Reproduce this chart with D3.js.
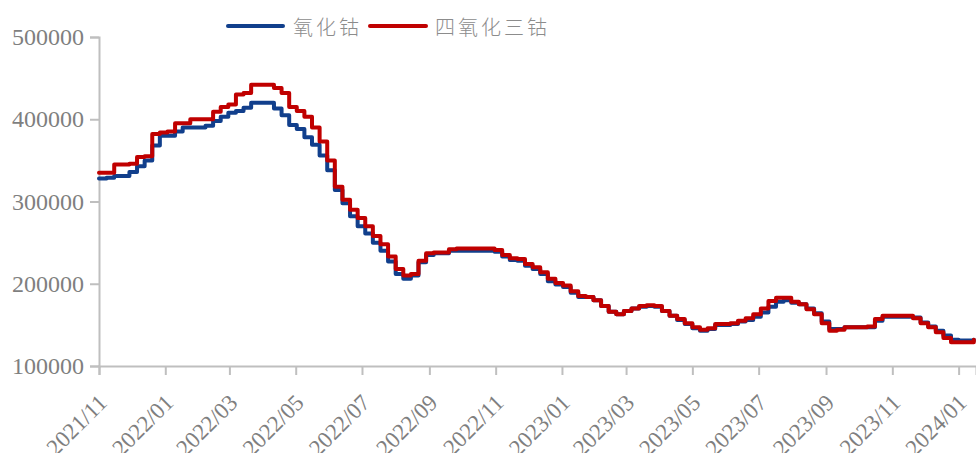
<!DOCTYPE html>
<html>
<head>
<meta charset="utf-8">
<script src="https://cdn.jsdelivr.net/npm/d3@7"></script>
<style>
  html, body { margin: 0; padding: 0; background: #ffffff; }
  svg { display: block; }
</style>
</head>
<body>
<div id="chart"></div>
<script>
// Weekly cobalt oxide prices (yuan/ton), one value per Monday from 2021-11-01
const seriesNames = ["氧化钴", "四氧化三钴"];
const seriesColors = ["#113f8c", "#c00000"];

const cobaltOxide = [
  328000, 329000, 331000, 331000, 336000, 343000, 350000, 368000, 380000, 380000,
  385000, 390000, 390000, 390000, 392000, 398000, 403000, 408000, 410000, 414000,
  420000, 420000, 420000, 413000, 405000, 393000, 388000, 378000, 369000, 356000,
  338000, 314000, 298000, 282000, 270000, 261000, 250000, 240000, 227000, 212000,
  206000, 210000, 226000, 235000, 237000, 237000, 240000, 240000, 240000, 240000,
  240000, 240000, 239000, 233000, 229000, 228000, 222000, 218000, 212000, 203000,
  199000, 196000, 189000, 184000, 184000, 180000, 173000, 166000, 163000, 167000,
  170000, 172000, 173000, 172000, 167000, 161000, 156000, 151000, 146000, 143000,
  145000, 150000, 150000, 151000, 154000, 156000, 160000, 165000, 172000, 178000,
  180000, 177000, 175000, 170000, 164000, 154000, 145000, 145000, 147000, 147000,
  147000, 147000, 155000, 160000, 160000, 160000, 160000, 159000, 153000, 148000,
  143000, 137000, 132000, 131000, 131000, 132000
];

const tricobaltTetroxide = [
  335000, 335000, 345000, 345000, 346000, 354000, 355000, 382000, 384000, 385000,
  395000, 395000, 400000, 400000, 400000, 409000, 415000, 418000, 430000, 432000,
  442000, 442000, 442000, 438000, 432000, 415000, 410000, 403000, 390000, 373000,
  350000, 318000, 302000, 290000, 280000, 270000, 258000, 248000, 233000, 218000,
  210000, 212000, 228000, 237000, 238000, 238000, 242000, 243000, 243000, 243000,
  243000, 243000, 241000, 235000, 231000, 230000, 224000, 220000, 214000, 206000,
  201000, 198000, 191000, 185000, 184000, 180000, 173000, 166000, 163000, 167000,
  170000, 173000, 174000, 173000, 167000, 161000, 157000, 152000, 147000, 144000,
  146000, 151000, 151000, 152000, 155000, 158000, 163000, 170000, 179000, 183000,
  183000, 178000, 175000, 169000, 163000, 152000, 143000, 144000, 147000, 147000,
  147000, 148000, 157000, 161000, 161000, 161000, 161000, 158000, 152000, 147000,
  141000, 134000, 129000, 129000, 129000, 132000
];

const yTickValues = [100000, 200000, 300000, 400000, 500000];

// Weekly category dates (Mondays)
const weekDates = d3.timeMonday.range(new Date(2021, 10, 1), new Date(2024, 0, 16));

const width = 976, height = 453;
const plot = { left: 99, right: 976, top: 37, bottom: 366 };

const svg = d3.select("#chart").append("svg")
  .attr("width", width).attr("height", height);

const x = d3.scaleTime()
  .domain([new Date(2021, 10, 1), new Date(2024, 0, 17)])
  .range([plot.left, plot.right]);

const y = d3.scaleLinear()
  .domain([100000, 500000])
  .range([plot.bottom, plot.top]);

const axisColor = "#bfbfbf";
const labelColor = "#7f7f7f";
const labelFont = "'Liberation Serif', 'Times New Roman', serif";

// Y axis
const yAxis = svg.append("g")
  .attr("transform", `translate(${plot.left},0)`)
  .call(d3.axisLeft(y).tickValues(yTickValues).tickSize(9).tickPadding(6).tickFormat(d3.format("d")));
yAxis.select(".domain").attr("stroke", axisColor).attr("stroke-width", 2);
yAxis.selectAll(".tick line").attr("stroke", axisColor).attr("stroke-width", 2);
yAxis.selectAll(".tick text")
  .attr("fill", labelColor)
  .attr("font-family", labelFont)
  .attr("font-size", "24px");

// X axis
const xAxis = svg.append("g")
  .attr("transform", `translate(0,${plot.bottom})`)
  .call(d3.axisBottom(x).ticks(d3.timeMonth.every(2)).tickSize(9).tickFormat(d3.timeFormat("%Y/%m")));
xAxis.select(".domain").attr("stroke", axisColor).attr("stroke-width", 2);
xAxis.selectAll(".tick line").attr("stroke", axisColor).attr("stroke-width", 2);
xAxis.selectAll(".tick text")
  .attr("fill", labelColor)
  .attr("font-family", labelFont)
  .attr("font-size", "23px")
  .attr("text-anchor", "end")
  .attr("dy", null)
  .attr("y", null)
  .attr("transform", "translate(9,38) rotate(-45)");

// Price lines
const seriesValues = [cobaltOxide, tricobaltTetroxide];
const line = d3.line()
  .x(d => x(d[0]))
  .y(d => y(d[1]))
  .curve(d3.curveStepAfter);

seriesValues.forEach((vals, i) => {
  const pts = weekDates.map((dt, k) => [dt, vals[k]]);
  svg.append("path")
    .datum(pts)
    .attr("fill", "none")
    .attr("stroke", seriesColors[i])
    .attr("stroke-width", 4)
    .attr("stroke-linejoin", "round")
    .attr("stroke-linecap", "round")
    .attr("d", line);
});

// Legend
const legendItems = [
  { x1: 228, x2: 283, tx: 293 },
  { x1: 370, x2: 426, tx: 435 }
];
legendItems.forEach((it, i) => {
  svg.append("line")
    .attr("x1", it.x1).attr("x2", it.x2)
    .attr("y1", 26).attr("y2", 26)
    .attr("stroke", seriesColors[i])
    .attr("stroke-width", 4)
    .attr("stroke-linecap", "round");
  svg.append("text")
    .attr("x", it.tx).attr("y", 26)
    .attr("dominant-baseline", "central")
    .attr("fill", "#8c8c8c")
    .attr("font-family", "'Noto Sans CJK SC', sans-serif")
    .attr("font-weight", 300)
    .attr("font-size", "20px")
    .attr("letter-spacing", "3px")
    .text(seriesNames[i]);
});
</script>
</body>
</html>
